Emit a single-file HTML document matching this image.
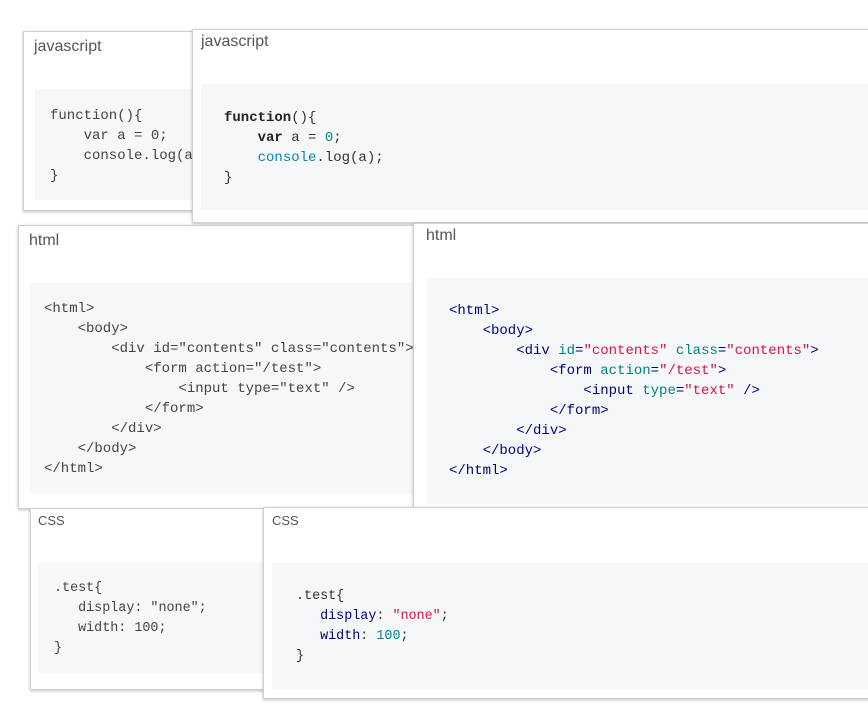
<!DOCTYPE html>
<html><head><meta charset="utf-8"><style>
body{margin:0;width:868px;height:728px;background:#fff;position:relative;overflow:hidden;font-family:"Liberation Sans",sans-serif}
.card{position:absolute;background:#fff;border:1px solid #d0d0d0;box-shadow:0 1px 3px rgba(0,0,0,.25)}
.t{position:absolute;color:#555;font-size:16px}
.code{position:absolute;background:#f6f7f8}
pre{position:absolute;margin:0;font-family:"Liberation Mono",monospace;font-size:14px;line-height:20px;color:#333}
.k{font-weight:bold;color:#222}.n{color:#088}.c{color:#0086b3}.g{color:#000080}.a{color:#008080}.s{color:#d14}
</style></head><body>

<div class="card" style="left:23px;top:31px;width:200px;height:178px">
<div class="t" style="left:10px;top:6px">javascript</div>
<div class="code" style="left:11px;top:57px;width:200px;height:111px"></div>
<pre style="left:26px;top:74px;color:#444">function(){
    var a = 0;
    console.log(a);
}</pre></div>

<div class="card" style="left:192px;top:29px;width:690px;height:192px">
<div class="t" style="left:8px;top:3px">javascript</div>
<div class="code" style="left:8px;top:54px;width:690px;height:126px"></div>
<pre style="left:31px;top:78px"><span class="k">function</span>(){
    <span class="k">var</span> a = <span class="n">0</span>;
    <span class="c">console</span>.log(a);
}</pre></div>

<div class="card" style="left:18px;top:225px;width:410px;height:282px">
<div class="t" style="left:10px;top:6px">html</div>
<div class="code" style="left:11px;top:57px;width:410px;height:211px"></div>
<pre style="left:25px;top:73px;color:#444">&lt;html&gt;
    &lt;body&gt;
        &lt;div id="contents" class="contents"&gt;
            &lt;form action="/test"&gt;
                &lt;input type="text" /&gt;
            &lt;/form&gt;
        &lt;/div&gt;
    &lt;/body&gt;
&lt;/html&gt;</pre></div>

<div class="card" style="left:413px;top:223px;width:470px;height:291px">
<div class="t" style="left:12px;top:3px">html</div>
<div class="code" style="left:12px;top:54px;width:470px;height:226px"></div>
<pre style="left:35px;top:77px" class="g">&lt;html&gt;
    &lt;body&gt;
        &lt;div <span class="a">id</span>=<span class="s">"contents"</span> <span class="a">class</span>=<span class="s">"contents"</span>&gt;
            &lt;form <span class="a">action</span>=<span class="s">"/test"</span>&gt;
                &lt;input <span class="a">type</span>=<span class="s">"text"</span> /&gt;
            &lt;/form&gt;
        &lt;/div&gt;
    &lt;/body&gt;
&lt;/html&gt;</pre></div>

<div class="card" style="left:30px;top:508px;width:240px;height:180px">
<div class="t" style="left:7px;top:4px;font-size:13px">CSS</div>
<div class="code" style="left:7px;top:53px;width:240px;height:111px"></div>
<pre style="left:23px;top:70px;font-size:13.4px;color:#444">.test{
   display: "none";
   width: 100;
}</pre></div>

<div class="card" style="left:263px;top:507px;width:620px;height:190px">
<div class="t" style="left:8px;top:5px;font-size:13px">CSS</div>
<div class="code" style="left:8px;top:55px;width:620px;height:126px"></div>
<pre style="left:32px;top:79px;font-size:13.4px">.test{
   <span class="g">display</span>: <span class="s">"none"</span>;
   <span class="g">width</span>: <span class="n">100</span>;
}</pre></div>

</body></html>
